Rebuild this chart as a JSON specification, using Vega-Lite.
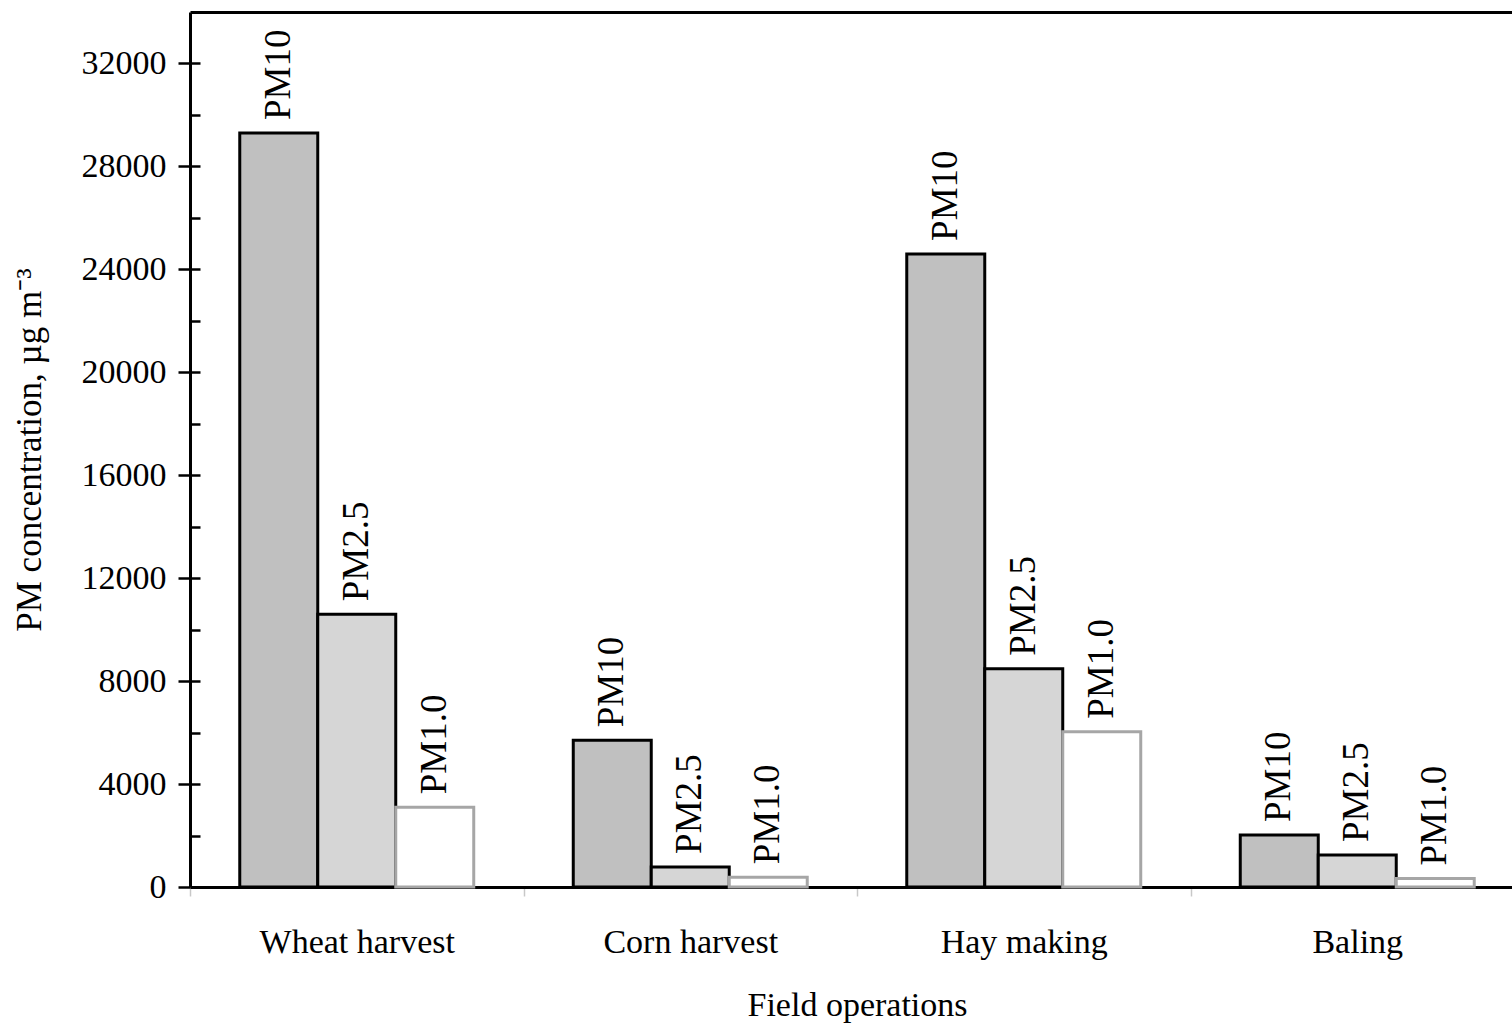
{
  "$schema": "https://vega.github.io/schema/vega-lite/v6.json",
  "autosize": {"type": "none"},
  "width": 1322,
  "height": 875,
  "padding": {"left": 190, "top": 12, "right": 0, "bottom": 138},
  "background": "white",
  "config": {
    "view": {"stroke": null},
    "font": "Liberation Serif",
    "axis": {"labelFont": "Liberation Serif", "titleFont": "Liberation Serif", "labelColor": "black", "titleColor": "black", "titleFontWeight": "normal", "grid": false, "labelLimit": 0}
  },
  "data": {
    "values": [
      {"operation": "Wheat harvest", "pm": "PM10", "value": 29300},
      {"operation": "Wheat harvest", "pm": "PM2.5", "value": 10600},
      {"operation": "Wheat harvest", "pm": "PM1.0", "value": 3100},
      {"operation": "Corn harvest", "pm": "PM10", "value": 5700},
      {"operation": "Corn harvest", "pm": "PM2.5", "value": 780},
      {"operation": "Corn harvest", "pm": "PM1.0", "value": 380},
      {"operation": "Hay making", "pm": "PM10", "value": 24600},
      {"operation": "Hay making", "pm": "PM2.5", "value": 8480},
      {"operation": "Hay making", "pm": "PM1.0", "value": 6030},
      {"operation": "Baling", "pm": "PM10", "value": 2020},
      {"operation": "Baling", "pm": "PM2.5", "value": 1240},
      {"operation": "Baling", "pm": "PM1.0", "value": 330}
    ]
  },
  "encoding": {
    "x": {
      "field": "operation",
      "type": "nominal",
      "sort": ["Wheat harvest", "Corn harvest", "Hay making", "Baling"],
      "scale": {"paddingInner": 0, "paddingOuter": 0, "range": [0, 1334]}
    },
    "xOffset": {
      "field": "pm",
      "type": "nominal",
      "sort": ["PM10", "PM2.5", "PM1.0"],
      "scale": {"paddingInner": 0, "paddingOuter": 0.638}
    },
    "y": {
      "field": "value",
      "type": "quantitative",
      "scale": {"domain": [0, 34000], "nice": false}
    }
  },
  "layer": [
    {
      "mark": {"type": "bar", "strokeWidth": 3, "strokeJoin": "miter"},
      "encoding": {
        "x": {
          "field": "operation",
          "type": "nominal",
          "sort": ["Wheat harvest", "Corn harvest", "Hay making", "Baling"],
          "axis": {
            "orient": "bottom",
            "title": "Field operations",
            "titleFontSize": 34,
            "titlePadding": 29,
            "labelFontSize": 34,
            "labelAngle": 0,
            "labelPadding": 29,
            "tickBand": "extent",
            "tickColor": "#c8c8c8",
            "tickWidth": 1.5,
            "tickSize": 9,
            "domainColor": "black",
            "domainWidth": 3
          }
        },
        "y": {
          "field": "value",
          "type": "quantitative",
          "axis": {
            "title": "PM concentration, µg m⁻³",
            "titleFontSize": 35,
            "titlePadding": 34,
            "values": [0, 4000, 8000, 12000, 16000, 20000, 24000, 28000, 32000],
            "format": "d",
            "labelFontSize": 34,
            "labelPadding": 12,
            "tickSize": 12,
            "tickWidth": 2.5,
            "tickColor": "black",
            "domainColor": "black",
            "domainWidth": 3
          }
        },
        "fill": {
          "field": "pm",
          "type": "nominal",
          "scale": {"domain": ["PM10", "PM2.5", "PM1.0"], "range": ["#c0c0c0", "#d6d6d6", "#ffffff"]},
          "legend": null
        },
        "stroke": {
          "field": "pm",
          "type": "nominal",
          "scale": {"domain": ["PM10", "PM2.5", "PM1.0"], "range": ["#000000", "#000000", "#a6a6a6"]},
          "legend": null
        }
      }
    },
    {
      "mark": {"type": "text", "angle": 270, "align": "left", "baseline": "middle", "dx": 13, "fontSize": 37, "font": "Liberation Serif", "color": "black"},
      "encoding": {
        "x": {
          "field": "operation",
          "type": "nominal",
          "sort": ["Wheat harvest", "Corn harvest", "Hay making", "Baling"],
          "axis": {"orient": "top", "title": null, "labels": false, "ticks": false, "domainColor": "black", "domainWidth": 3}
        },
        "y": {
          "field": "value",
          "type": "quantitative",
          "axis": {"orient": "left", "title": null, "labels": false, "domain": false, "values": [2000, 4000, 6000, 8000, 10000, 12000, 14000, 16000, 18000, 20000, 22000, 24000, 26000, 28000, 30000, 32000], "tickSize": -10, "tickWidth": 2.5, "tickColor": "black"}
        },
        "text": {"field": "pm", "type": "nominal"}
      }
    }
  ],
  "resolve": {"axis": {"x": "independent", "y": "independent"}}
}
